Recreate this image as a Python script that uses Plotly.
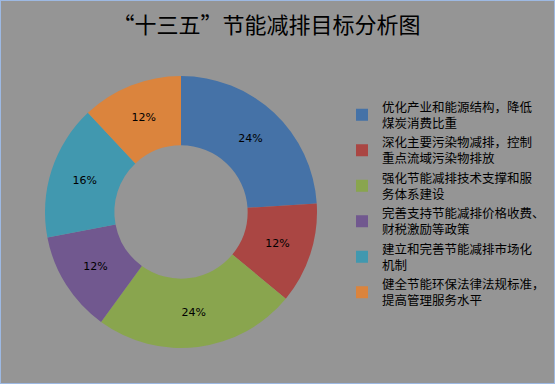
import plotly.graph_objects as go

labels = [
    "优化产业和能源结构，降低<br>煤炭消费比重",
    "深化主要污染物减排，控制<br>重点流域污染物排放",
    "强化节能减排技术支撑和服<br>务体系建设",
    "完善支持节能减排价格收费、<br>财税激励等政策",
    "建立和完善节能减排市场化<br>机制",
    "健全节能环保法律法规标准，<br>提高管理服务水平",
]
values = [24, 12, 24, 12, 16, 12]
colors = ["#4572A7", "#AA4643", "#89A54E", "#71588F", "#4198AF", "#DB843D"]
title = "“十三五”节能减排目标分析图"

W, H = 555, 384
fig = go.Figure(go.Pie(
    labels=labels, values=values, hole=0.49, sort=False, direction="clockwise",
    rotation=0, marker=dict(colors=colors, line=dict(width=0)),
    textinfo="percent", texttemplate="%{value}%", textposition="inside",
    insidetextorientation="horizontal",
    textfont=dict(color="black", size=11, family="DejaVu Sans"),
    domain=dict(x=[45 / W, 317 / W], y=[1 - 348 / H, 1 - 76 / H]),
))
fig.update_layout(
    width=W, height=H, margin=dict(l=0, r=0, t=0, b=0, autoexpand=False),
    paper_bgcolor="#959595", plot_bgcolor="#959595",
    title=dict(text=title, x=0.48, xanchor="center", y=1 - 25 / H, yanchor="middle",
               font=dict(size=22, color="black", family="Noto Sans CJK SC")),
    legend=dict(x=342 / W, xanchor="left", y=1 - 92 / H, yanchor="top",
                font=dict(size=12.5, color="black", family="Noto Sans CJK SC"),
                bgcolor="rgba(0,0,0,0)", itemwidth=30),
    showlegend=True,
    shapes=[dict(type="rect", xref="paper", yref="paper", x0=0, y0=0, x1=1, y1=1,
                 line=dict(color="#9DB9E3", width=2))],
)
fig.write_html("out.html")
